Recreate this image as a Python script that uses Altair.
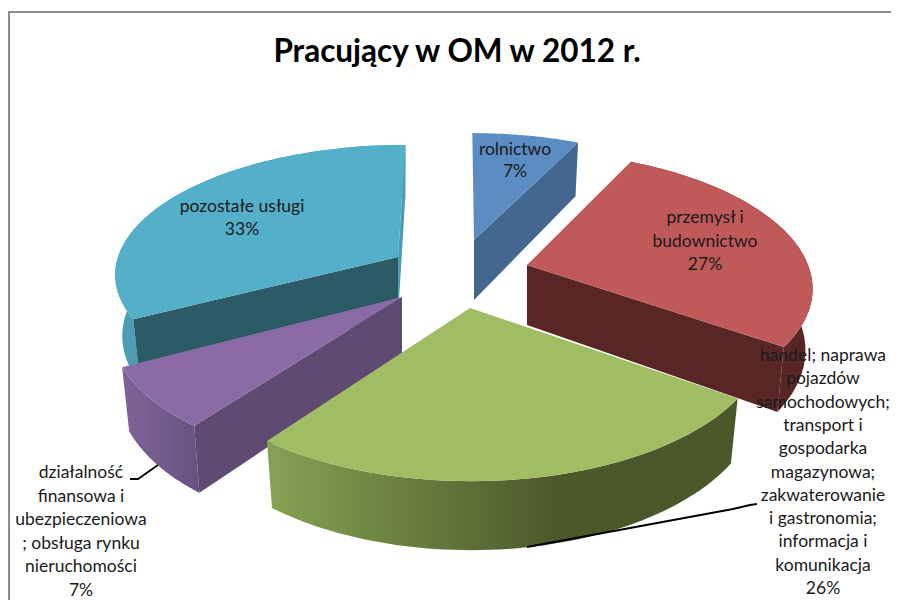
import math
import altair as alt
import pandas as pd

# ---- chart content ----
title = "Pracujący w OM w 2012 r."
categories = ["rolnictwo", "przemysł i budownictwo",
              "handel; naprawa pojazdów samochodowych; transport i gospodarka magazynowa; zakwaterowanie i gastronomia; informacja i komunikacja",
              "działalność finansowa i ubezpieczeniowa; obsługa rynku nieruchomości",
              "pozostałe usługi"]
shares = [7.4, 27.3, 25.5, 7.0, 32.8]

label_lines = [
    ["rolnictwo", "7%"],
    ["przemysł i", "budownictwo", "27%"],
    ["handel; naprawa", "pojazdów", "samochodowych;", "transport i", "gospodarka", "magazynowa;",
     "zakwaterowanie", "i gastronomia;", "informacja i", "komunikacja", "26%"],
    ["działalność", "finansowa i", "ubezpieczeniowa", "; obsługa rynku", "nieruchomości", "7%"],
    ["pozostałe usługi", "33%"],
]

# ---- layout: exploded-slice apexes and projection of the tilted pie ----
apex = [(474, 240), (527, 265), (470, 308), (402, 297), (398, 257)]
rx = [285, 281, 292, 284, 280]
ry = [132, 131, 142, 135, 125]
persp = [0.235, 0.151, 0.18, 0.2, 0.115]
DEPTH, VANISH_X = 60, 460
label_pos = [(515, 150), (705, 218), (823, 356), (81, 473), (242, 207)]
LINE_H = [22, 23.5, 23.3, 23.5, 23]

top_col = ["#5b8cc2", "#c0595a", "#a1bd63", "#8a6ba5", "#54afc9"]
face_col = ["#44678f", "#592626", None, "#5f4b72", "#2d5a67"]
side_grad = {
    2: ("#86a253", "#4b582a"),
    3: ("#7f639b", "#67527f"),
}

edges = [0.0]
for s in shares:
    edges.append(edges[-1] + s / sum(shares) * 2 * math.pi)


def rim(i, th):
    u, v = math.sin(th), math.cos(th)
    w = 1 + persp[i] * v
    ax, ay = apex[i]
    dx = rx[i] * u / w + (VANISH_X - ax) * v * 0.12
    return ax + dx, ay - ry[i] * v / w, dx, v


def top_pt(i, th):
    return rim(i, th)[:2]


def low_pt(i, th):
    x, y, dx, v = rim(i, th)
    return apex[i][0] + dx * 0.975, y + DEPTH / (1 + 0.13 * v)


def arc_angles(i, n=60):
    a, b = edges[i], edges[i + 1]
    return [a + (b - a) * k / n for k in range(n + 1)]


def top_poly(i):
    return [apex[i]] + [top_pt(i, t) for t in arc_angles(i)]


def side_poly(i):
    ts = arc_angles(i)
    return [top_pt(i, t) for t in ts] + [low_pt(i, t) for t in reversed(ts)]


def cut_poly(i, th):
    ax, ay = apex[i]
    return [(ax, ay), top_pt(i, th), low_pt(i, th), (ax, ay + DEPTH)]


X = alt.Scale(domain=[8, 891], nice=False, zero=False)
Y = alt.Scale(domain=[600, 8], nice=False, zero=False)
xe = alt.X("x:Q", scale=X, axis=None)
ye = alt.Y("y:Q", scale=Y, axis=None)


def poly(points, fill):
    df = pd.DataFrame([{"x": p[0], "y": p[1], "i": k} for k, p in enumerate(points + [points[0]])])
    return alt.Chart(df).mark_line(fill=fill, strokeWidth=0, clip=True).encode(x=xe, y=ye, order="i:Q")


def grad(c1, c2, mid=1.0):
    return alt.Gradient(gradient="linear", x1=0, x2=1, y1=0, y2=0,
                        stops=[alt.GradientStop(color=c1, offset=0),
                               alt.GradientStop(color=c2, offset=mid),
                               alt.GradientStop(color=c2, offset=1)])


layers = []
# back to front: teal, blue, red, purple, green
layers += [poly(side_poly(4), "#4c9db3"),
           poly(cut_poly(4, edges[5]), "#4c9db3"),
           poly(cut_poly(4, edges[4]), face_col[4]),
           poly(top_poly(4), top_col[4])]
layers += [poly(cut_poly(0, edges[1]), face_col[0]),
           poly(top_poly(0), top_col[0])]
layers += [poly(side_poly(1), face_col[1]),
           poly(cut_poly(1, edges[2]), face_col[1]),
           poly(top_poly(1), top_col[1])]
layers += [poly(side_poly(3), grad(*side_grad[3])),
           poly(cut_poly(3, edges[3]), face_col[3]),
           poly(top_poly(3), top_col[3])]
layers += [poly(side_poly(2), grad(*side_grad[2], mid=0.62)),
           poly(top_poly(2), top_col[2])]

# leader lines
leader_green = pd.DataFrame({"x": [527, 733, 750, 757], "y": [547, 509, 505, 504], "i": [0, 1, 2, 3]})
leader_purple = pd.DataFrame({"x": [130, 138, 158], "y": [479, 479, 465], "i": [0, 1, 2]})
for d in (leader_green, leader_purple):
    layers.append(alt.Chart(d).mark_line(color="#000000", strokeWidth=1.8).encode(x=xe, y=ye, order="i:Q"))

# frame
frame_top = pd.DataFrame({"x": [8, 891], "y": [12, 12], "i": [0, 1]})
frame_left = pd.DataFrame({"x": [9, 9], "y": [12, 600], "i": [0, 1]})
for d in (frame_top, frame_left):
    layers.append(alt.Chart(d).mark_line(color="#8c8c8c", strokeWidth=2).encode(x=xe, y=ye, order="i:Q"))

# labels
rows = []
for k, lines in enumerate(label_lines):
    for j, t in enumerate(lines):
        rows.append({"x": label_pos[k][0], "y": label_pos[k][1] + j * LINE_H[k], "t": t})
layers.append(alt.Chart(pd.DataFrame(rows)).mark_text(
    font="Lato", fontSize=17.5, color="#1a1a1a", align="center", baseline="middle"
).encode(x=xe, y=ye, text="t:N"))

layers.append(alt.Chart(pd.DataFrame({"x": [457], "y": [53], "t": [title]})).mark_text(
    font="Lato", fontSize=31.5, fontWeight="bold", color="#000000", align="center", baseline="middle"
).encode(x=xe, y=ye, text="t:N"))

chart = alt.layer(*layers).properties(
    width=883, height=592, padding=0, autosize=alt.AutoSizeParams(type="none"), background="#ffffff"
).configure_view(stroke=None)

chart.save("out.html", embed_options={"renderer": "svg", "actions": False})
